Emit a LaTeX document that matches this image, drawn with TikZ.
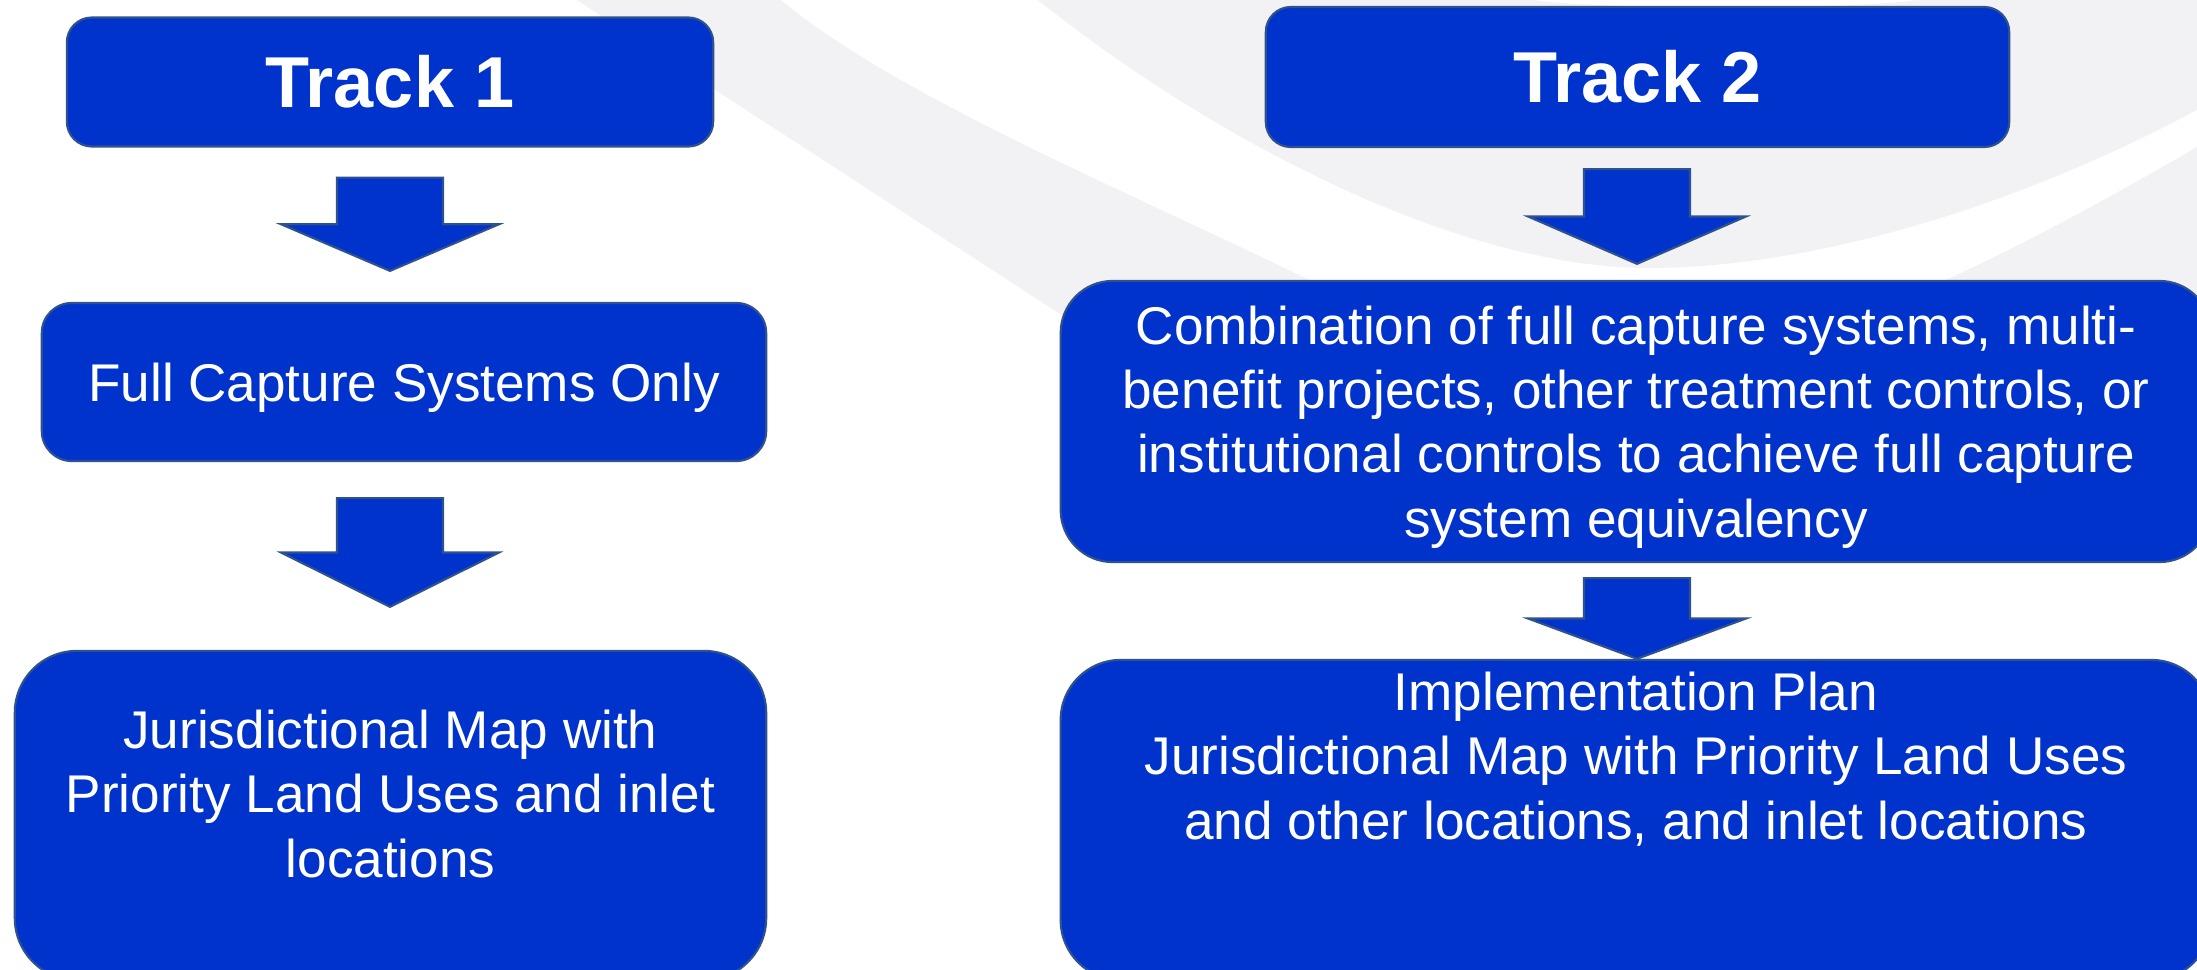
\documentclass[tikz,border=0pt]{standalone}
\usepackage{fontspec}
\setmainfont{Liberation Sans}
\usetikzlibrary{calc}

\definecolor{boxblue}{HTML}{0033CC}
\definecolor{boxline}{HTML}{2F528F}
\definecolor{swoosh}{HTML}{F2F2F4}

% block arrow: column, upper node, lower node, gap below upper, gap above lower
\newcommand{\blockarrow}[5]{%
  \coordinate (atop) at ($(#1 |- #2.south)+(0,#4)$);
  \coordinate (atip) at ($(#1 |- #3.north)+(0,-#5)$);
  \coordinate (aneck) at ($(atop)!.5!(atip)$);
  \draw[barrow] ($(atop)+(-53,0)$) -- ($(atop)+(53,0)$) -- ($(aneck)+(53,0)$)
    -- ($(aneck)+(109,0)$) -- (atip) -- ($(aneck)+(-109,0)$) -- ($(aneck)+(-53,0)$) -- cycle;}

\begin{document}
\begin{tikzpicture}[x=0.01cm,y=-0.01cm,
  box/.style={draw=boxline,line width=.6pt,fill=boxblue,text=white,
    font=\fontsize{15.1}{18.3}\selectfont,align=center,inner sep=0pt},
  head/.style={box,font=\fontsize{20.5}{24}\selectfont\bfseries,rounded corners=.25cm},
  barrow/.style={draw=boxline,line width=.6pt,fill=boxblue}]

\path[use as bounding box,clip] (0,0) rectangle (2197,970);

% background swooshes
\fill[swoosh] (577,0) -- (1100,340) -- (2197,340) -- (2197,147)
  .. controls (2080,215) and (1990,262) .. (1900,300) -- (1350,300)
  .. controls (1150,200) and (900,100) .. (781,0) -- cycle;
\fill[swoosh] (1038,0) -- (1534,0) .. controls (1600,10) and (1850,10) .. (1916,0)
  -- (2197,0) -- (2197,110) .. controls (2000,215) and (1800,268) .. (1649,268)
  .. controls (1450,268) and (1200,130) .. (1038,0) -- cycle;

\coordinate (col1) at (390,0);
\coordinate (col2) at (1637,0);

% track 1
\node[head,minimum width=6.46cm,minimum height=1.29cm] (t1) at (390,82) {Track 1};
\node[box,rounded corners=.3cm,minimum width=7.24cm,minimum height=1.58cm,text depth=0pt] (fc)
  at (404,382) {Full Capture Systems Only};
\node[box,rounded corners=.62cm] (jm) at (390.5,815.5)
  {\begin{minipage}[c][3.29cm][t]{7.51cm}\centering\vspace*{.59cm}
  Jurisdictional Map with\\Priority Land Uses and inlet\\locations\end{minipage}};

% track 2
\node[head,minimum width=7.43cm,minimum height=1.40cm] (t2) at (1637.5,77) {Track 2};
\node[box,rounded corners=.52cm,minimum width=11.5cm,minimum height=2.81cm,text depth=0pt] (cb)
  at (1636,421.5) {Combination of full capture systems, multi-\\benefit projects,
  other treatment controls, or\\institutional controls to achieve full capture\\system equivalency};
\node[box,rounded corners=.6cm] (ip) at (1636,820)
  {\begin{minipage}[c][3.2cm][t]{11.5cm}\centering\vspace*{.12cm}
  Implementation Plan\\Jurisdictional Map with Priority Land Uses\\and other locations, and inlet locations\end{minipage}};

\blockarrow{col1}{t1}{fc}{30}{31}
\blockarrow{col1}{fc}{jm}{36}{43}
\blockarrow{col2}{t2}{cb}{21}{16}
\blockarrow{col2}{cb}{ip}{15}{0}

\end{tikzpicture}
\end{document}
